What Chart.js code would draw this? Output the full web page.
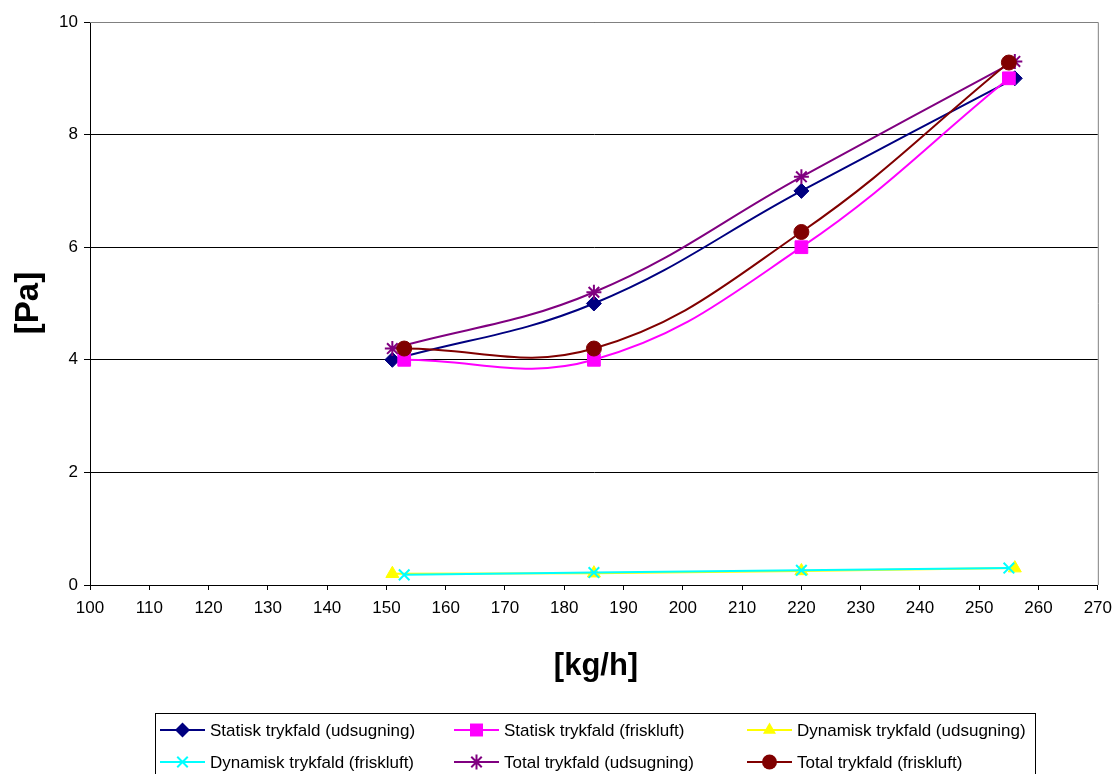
<!DOCTYPE html>
<html>
<head>
<meta charset="utf-8">
<script src="https://cdn.jsdelivr.net/npm/chart.js@4/dist/chart.umd.min.js"></script>
<style>
html,body{margin:0;padding:0;background:#fff;}
#wrap{width:1120px;height:774px;position:relative;}
</style>
</head>
<body>
<div id="wrap"><canvas id="c" width="1120" height="774"></canvas></div>
<script>
// Data
const seriesLabels = [
  "Statisk trykfald (udsugning)",
  "Statisk trykfald (friskluft)",
  "Dynamisk trykfald (udsugning)",
  "Dynamisk trykfald (friskluft)",
  "Total trykfald (udsugning)",
  "Total trykfald (friskluft)"
];
const xUdsugning = [151, 185, 220, 256];
const xFriskluft = [153, 185, 220, 255];
const statiskUdsugning = [4.0, 5.0, 7.0, 9.0];
const statiskFriskluft = [4.0, 4.0, 6.0, 9.0];
const dynamiskUdsugning = [0.2, 0.21, 0.25, 0.3];
const dynamiskFriskluft = [0.18, 0.22, 0.26, 0.3];
const totalUdsugning = [4.2, 5.2, 7.25, 9.3];
const totalFriskluft = [4.2, 4.2, 6.27, 9.28];
const xTicks = [100,110,120,130,140,150,160,170,180,190,200,210,220,230,240,250,260,270];
const yTicks = [0,2,4,6,8,10];

function pts(xs, ys){ return xs.map((x,i)=>({x:x, y:ys[i]})); }

const styles = [
  {color:'#000080', point:'rectRot', radius:7.5, tension:0.4},
  {color:'#FF00FF', point:'rect', radius:9, tension:0.4},
  {color:'#FFFF00', point:'triangle', radius:7.5, tension:0},
  {color:'#00FFFF', point:'crossRot', radius:7.5, tension:0},
  {color:'#800080', point:'star', radius:7.5, tension:0.4},
  {color:'#800000', point:'circle', radius:7.5, tension:0.4}
];
const seriesData = [
  pts(xUdsugning, statiskUdsugning),
  pts(xFriskluft, statiskFriskluft),
  pts(xUdsugning, dynamiskUdsugning),
  pts(xFriskluft, dynamiskFriskluft),
  pts(xUdsugning, totalUdsugning),
  pts(xFriskluft, totalFriskluft)
];

const datasets = seriesData.map((d,i)=>({
  label: seriesLabels[i],
  data: d,
  borderColor: styles[i].color,
  backgroundColor: styles[i].color,
  pointBackgroundColor: styles[i].color,
  pointBorderColor: styles[i].color,
  pointStyle: styles[i].point,
  pointRadius: styles[i].radius,
  pointBorderWidth: (styles[i].point==='crossRot'||styles[i].point==='star') ? 2 : 1,
  borderWidth: 2,
  tension: styles[i].tension,
  fill: false,
  order: 10 - i
}));

const FONT = "'Liberation Sans', Arial, sans-serif";

function drawMarker(ctx, style, color, x, y, r){
  ctx.save();
  ctx.fillStyle = color; ctx.strokeStyle = color; ctx.lineWidth = 2;
  ctx.beginPath();
  if (style==='rectRot'){
    ctx.moveTo(x, y-r); ctx.lineTo(x+r, y); ctx.lineTo(x, y+r); ctx.lineTo(x-r, y); ctx.closePath(); ctx.fill();
  } else if (style==='rect'){
    const s = r*0.72; ctx.rect(x-s, y-s, 2*s, 2*s); ctx.fill();
  } else if (style==='triangle'){
    ctx.moveTo(x, y-r); ctx.lineTo(x+r*0.87, y+r*0.5); ctx.lineTo(x-r*0.87, y+r*0.5); ctx.closePath(); ctx.fill();
  } else if (style==='crossRot'){
    const s = r*0.7; ctx.moveTo(x-s,y-s); ctx.lineTo(x+s,y+s); ctx.moveTo(x+s,y-s); ctx.lineTo(x-s,y+s); ctx.stroke();
  } else if (style==='star'){
    const s = r*0.7; ctx.moveTo(x-s,y-s); ctx.lineTo(x+s,y+s); ctx.moveTo(x+s,y-s); ctx.lineTo(x-s,y+s);
    ctx.moveTo(x, y-r); ctx.lineTo(x, y+r); ctx.stroke();
  } else {
    ctx.arc(x, y, r, 0, Math.PI*2); ctx.fill();
  }
  ctx.restore();
}

const decorPlugin = {
  id: 'decor',
  beforeDatasetsDraw(chart){
    const {ctx, chartArea:a} = chart;
    ctx.save();
    ctx.strokeStyle = '#808080'; ctx.lineWidth = 1;
    ctx.beginPath();
    ctx.moveTo(a.left, a.top+0.5); ctx.lineTo(a.right+0.5, a.top+0.5);
    ctx.lineTo(a.right+0.5, a.bottom);
    ctx.stroke();
    ctx.restore();
  },
  afterDraw(chart){
    const ctx = chart.ctx;
    ctx.save();
    // axis titles
    ctx.fillStyle = '#000';
    ctx.font = "bold 31px " + FONT;
    ctx.textAlign = 'center'; ctx.textBaseline = 'middle';
    ctx.fillText('[kg/h]', 596, 666);
    ctx.font = "bold 33px " + FONT;
    ctx.translate(29, 303); ctx.rotate(-Math.PI/2);
    ctx.fillText('[Pa]', 0, 0);
    ctx.restore();
    // legend
    ctx.save();
    ctx.strokeStyle = '#000'; ctx.lineWidth = 1;
    ctx.strokeRect(155.5, 713.5, 880, 62);
    const colX = [160, 454, 747];
    const rowY = [730, 762];
    ctx.font = "17px " + FONT;
    ctx.textAlign = 'left'; ctx.textBaseline = 'middle';
    for (let i=0;i<seriesLabels.length;i++){
      const cx = colX[i%3], cy = rowY[Math.floor(i/3)];
      const st = styles[i];
      ctx.strokeStyle = st.color; ctx.lineWidth = 2;
      ctx.beginPath(); ctx.moveTo(cx, cy); ctx.lineTo(cx+45, cy); ctx.stroke();
      drawMarker(ctx, st.point, st.color, cx+22.5, cy, st.radius);
      ctx.fillStyle = '#000';
      ctx.fillText(seriesLabels[i], cx+50, cy+1);
    }
    ctx.restore();
  }
};

new Chart(document.getElementById('c'), {
  type: 'line',
  data: { datasets: datasets },
  options: {
    responsive: false,
    animation: false,
    devicePixelRatio: 1,
    layout: { padding: { left: 0, top: 22, right: 20, bottom: 0 } },
    plugins: { legend: { display: false }, tooltip: { enabled: false } },
    scales: {
      x: {
        type: 'linear', min: 100, max: 270,
        afterFit(s){ s.height = 774 - 22 - 563 ; },
        afterBuildTicks(s){ s.ticks = xTicks.map(v=>({value:v})); },
        ticks: { color:'#000', font:{family:FONT, size:17}, padding: 8, maxRotation:0, autoSkip:false },
        grid: { drawOnChartArea:false, color:'#000', tickLength:5 },
        border: { color:'#000', width:1 }
      },
      y: {
        type: 'linear', min: 0, max: 10,
        afterFit(s){ s.width = 90; },
        afterBuildTicks(s){ s.ticks = yTicks.map(v=>({value:v})); },
        ticks: { color:'#000', font:{family:FONT, size:17}, padding: 6 },
        grid: { color:'#000', lineWidth:1, tickLength:6 },
        border: { color:'#000', width:1 }
      }
    }
  },
  plugins: [decorPlugin]
});
</script>
</body>
</html>
